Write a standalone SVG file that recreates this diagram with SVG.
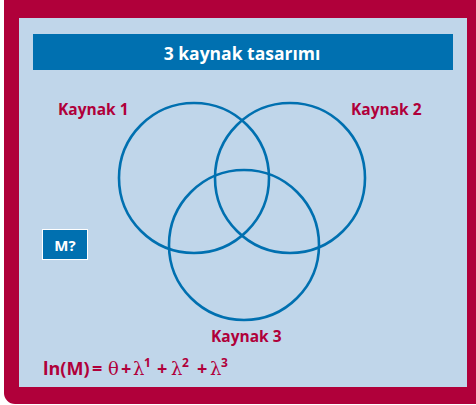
<svg xmlns="http://www.w3.org/2000/svg" width="476" height="405" viewBox="0 0 476 405">
<style>
.lbl{font-family:"Open Sans","Noto Sans",sans-serif;font-weight:bold;font-size:15.5px;fill:#b0003a}
.circ{fill:none;stroke:#0070b0;stroke-width:2.6}
.wt{font-family:"Open Sans","Noto Sans",sans-serif;font-weight:bold;fill:#ffffff}
.gr{font-family:"DejaVu Serif","Liberation Serif",serif;font-weight:normal;font-size:18px}
.sup{font-size:12px}
</style>
<rect x="4" y="-12" width="484" height="416" rx="11" fill="#b0003a"/>
<rect x="19" y="18" width="448" height="369" fill="#c0d6ea"/>
<g id="title">
<rect x="33" y="34" width="420" height="36" fill="#0070b0"/>
<text class="wt" x="242" y="60" font-size="17.5" text-anchor="middle">3 kaynak tasarımı</text>
</g>
<g id="connectors"></g>
<g id="kaynak1">
<circle class="circ" cx="194" cy="178" r="75"/>
<text class="lbl" x="58" y="115">Kaynak 1</text>
</g>
<g id="kaynak2">
<circle class="circ" cx="290" cy="178" r="75"/>
<text class="lbl" x="351" y="115">Kaynak 2</text>
</g>
<g id="kaynak3">
<circle class="circ" cx="244" cy="245" r="75"/>
<text class="lbl" x="211" y="342">Kaynak 3</text>
</g>
<g id="m">
<rect x="42.5" y="229.5" width="45" height="30" fill="#0070b0" stroke="#ffffff" stroke-width="1"/>
<text class="wt" x="65" y="251" font-size="15" font-weight="600" text-anchor="middle">M?</text>
</g>
<g id="formula" class="lbl" font-size="18">
<text class="lbl" x="43" y="375" style="font-size:18px">ln(M)</text>
<text class="lbl" x="92" y="375" style="font-size:18px">=</text>
<text class="lbl gr" x="108" y="375">θ</text>
<text class="lbl" x="121" y="375" style="font-size:18px">+</text>
<text class="lbl gr" x="133" y="375">λ</text>
<text class="lbl sup" x="144" y="367">1</text>
<text class="lbl" x="157" y="375" style="font-size:18px">+</text>
<text class="lbl gr" x="171" y="375">λ</text>
<text class="lbl sup" x="182" y="367">2</text>
<text class="lbl" x="197" y="375" style="font-size:18px">+</text>
<text class="lbl gr" x="210" y="375">λ</text>
<text class="lbl sup" x="221" y="367">3</text>
</g>
</svg>
